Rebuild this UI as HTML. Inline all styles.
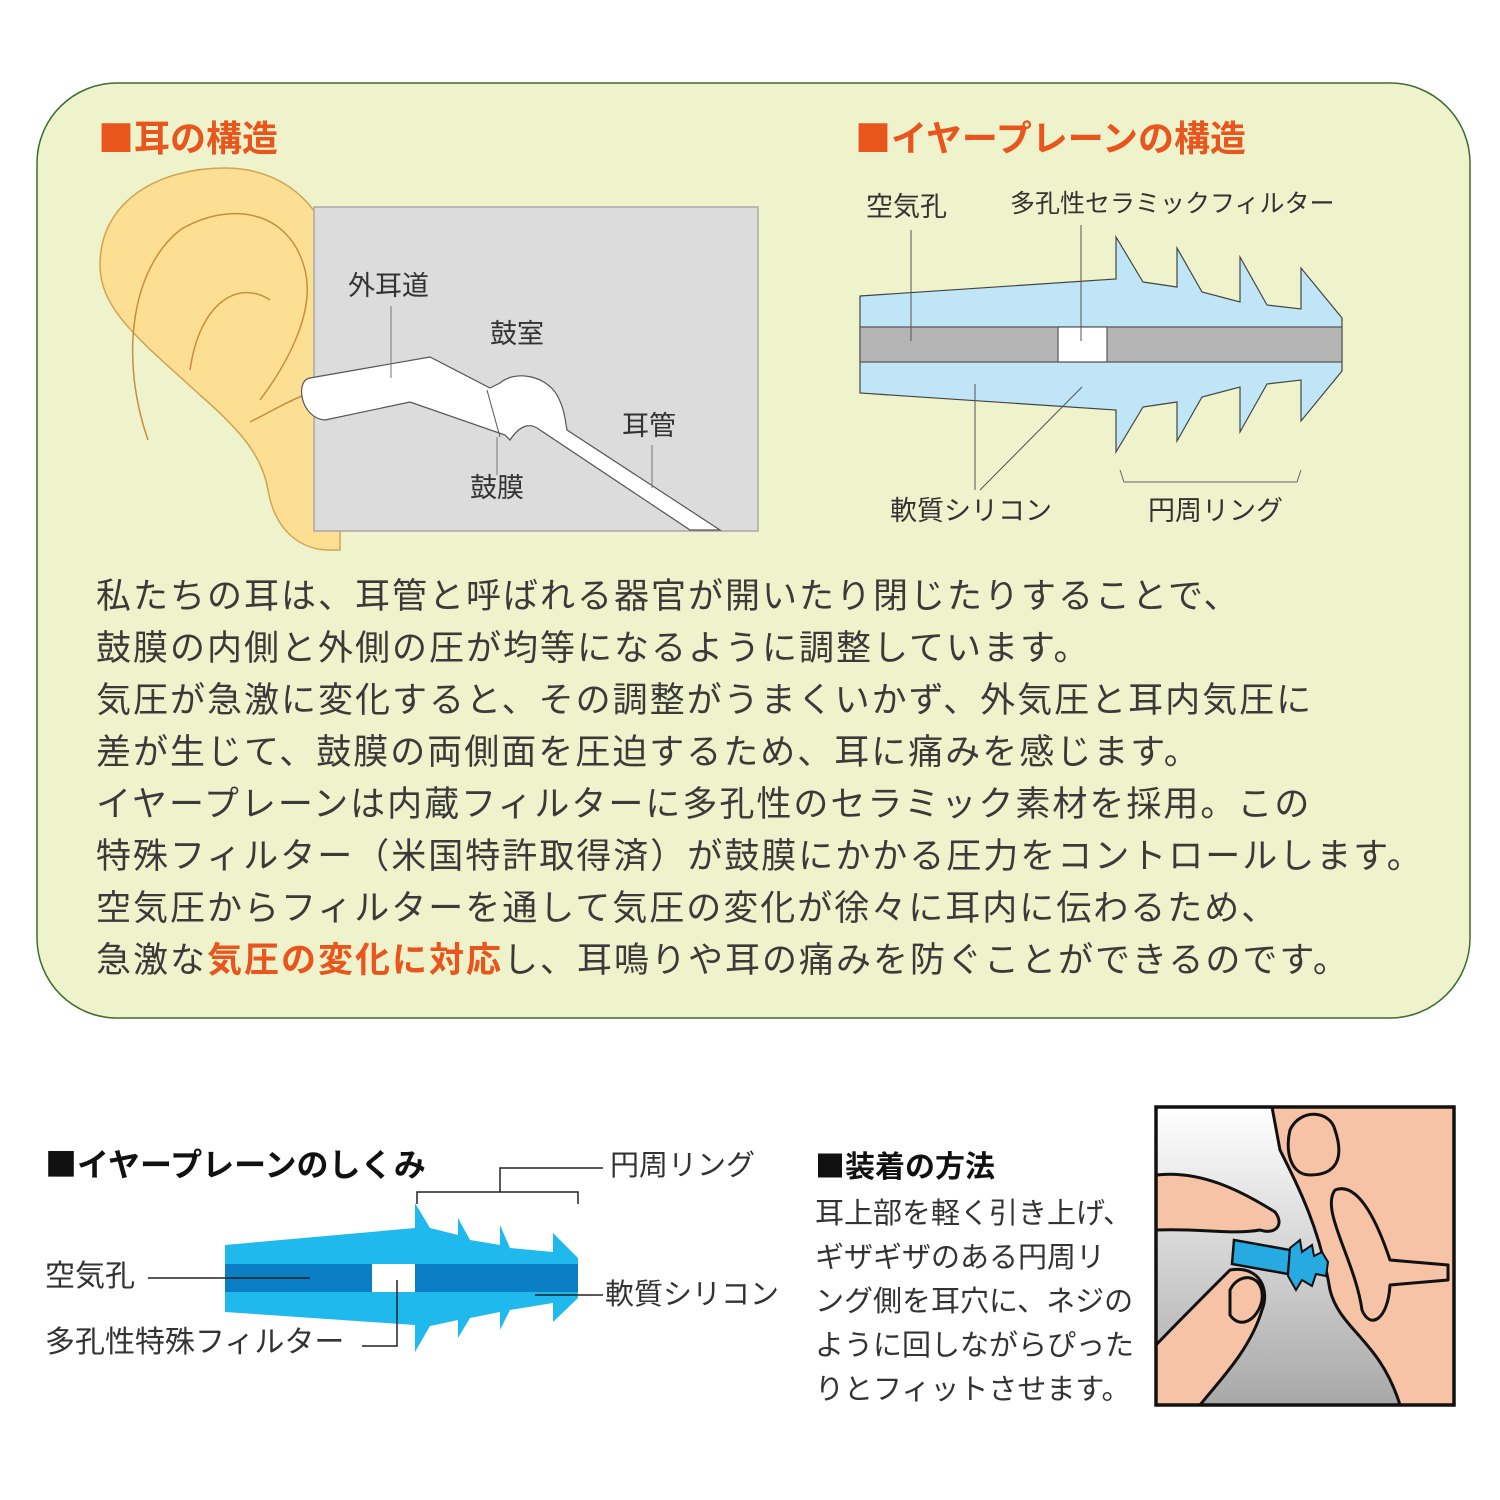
<!DOCTYPE html>
<html><head><meta charset="utf-8"><style>
body{margin:0;width:1500px;height:1500px;background:#fff;overflow:hidden;font-family:"Liberation Sans","Noto Sans CJK JP",sans-serif;}
svg{position:absolute;left:0;top:0}
.t{position:absolute;white-space:nowrap;color:#333;line-height:1}
.sq{font-family:"Noto Sans CJK JP",sans-serif;}
</style></head><body>
<svg width="1500" height="1500" viewBox="0 0 1500 1500">
<rect x="37" y="83" width="1433" height="935" rx="80" fill="#eef3cb" stroke="#3f6b2e" stroke-width="1.5"/>
<!-- ear -->
<path d="M335,550 C300,552 275,530 268,490 C262,455 240,430 200,395 C140,340 100,310 100,265 C100,200 160,168 225,168 C290,168 340,215 340,300 L340,550 Z" fill="#fddf94" stroke="#d2a452" stroke-width="1.5"/>
<path d="M148,440 C120,360 130,270 180,230 C230,200 290,210 305,270 C315,310 290,360 260,400" fill="none" stroke="#c48f3c" stroke-width="1.5"/>
<path d="M190,370 C200,300 240,280 270,300" fill="none" stroke="#c48f3c" stroke-width="1.5"/>
<path d="M250,422 C270,412 290,400 305,395" fill="none" stroke="#c48f3c" stroke-width="1.5"/>
<rect x="314" y="207" width="444" height="324" fill="#dcdcdc" stroke="#a8a8a8" stroke-width="1.5"/>
<path d="M310,378 L430,357 L490,388 L500,383 C515,370 545,375 557,395 C565,410 565,420 567,430 L720,530 L690,530 L540,430 C530,422 520,425 510,440 L505,435 L410,402 L325,420 C300,418 295,380 310,378 Z" fill="#fff" stroke="#555" stroke-width="1.2"/>
<line x1="487" y1="390" x2="500" y2="437" stroke="#555" stroke-width="1"/>
<line x1="391" y1="306" x2="391" y2="378" stroke="#777" stroke-width="1"/>
<line x1="497" y1="437" x2="497" y2="475" stroke="#777" stroke-width="1"/>
<line x1="652" y1="445" x2="652" y2="488" stroke="#777" stroke-width="1"/>
<!-- right earplug -->
<path d="M860,296 L1116,279 L1116,237 L1143,282 L1177,287 L1177,248 L1202,292 L1240,302 L1240,257 L1267,305 L1301,309 L1301,268 L1342,318 L1342,371 L1301,421 L1301,380 L1267,384 L1240,432 L1240,387 L1202,397 L1177,441 L1177,402 L1143,407 L1116,452 L1116,410 L860,393 Z" fill="#bfe5f7" stroke="#444" stroke-width="1.2"/>
<rect x="860" y="327" width="482" height="35" fill="#b5b5b5" stroke="#555" stroke-width="1.2"/>
<rect x="1058" y="327" width="49" height="35" fill="#fff" stroke="#555" stroke-width="1.2"/>
<line x1="911" y1="230" x2="911" y2="341" stroke="#555" stroke-width="1"/>
<line x1="1081" y1="225" x2="1081" y2="341" stroke="#555" stroke-width="1"/>
<line x1="975" y1="384" x2="975" y2="490" stroke="#555" stroke-width="1"/>
<line x1="1082" y1="387" x2="980" y2="490" stroke="#555" stroke-width="1"/>
<path d="M1120,470 L1124,482 L1297,482 L1301,470" fill="none" stroke="#666" stroke-width="1"/>
<!-- bottom earplug -->
<path d="M225,1245 L415,1228 L415,1203 L430,1228 L458,1235 L458,1218 L470,1240 L500,1245 L500,1225 L510,1248 L553,1252 L553,1233 L578,1258 L578,1298 L553,1322 L553,1303 L510,1310 L500,1330 L500,1312 L470,1318 L458,1338 L458,1320 L430,1326 L415,1352 L415,1325 L225,1312 Z" fill="#1fb9ee"/>
<rect x="225" y="1264" width="353" height="28" fill="#0a7fc6"/>
<rect x="372" y="1264" width="43" height="28" fill="#fff"/>
<g stroke="#222" stroke-width="1.5" fill="none">
<line x1="148" y1="1278" x2="310" y2="1278"/>
<path d="M362,1346 L397,1346 L397,1280"/>
<line x1="535" y1="1295" x2="603" y2="1295"/>
<path d="M417,1204 L417,1192 L578,1192 L578,1204 M500,1192 L500,1168 L603,1168"/>
</g>
<!-- instruction image -->
<defs><linearGradient id="g" x1="0" y1="0" x2="0" y2="1"><stop offset="0" stop-color="#fff"/><stop offset="1" stop-color="#a8a8a8"/></linearGradient></defs>
<rect x="1156" y="1107" width="298" height="298" fill="url(#g)"/>
<g stroke="#111" stroke-width="3" fill="#f6c3a6" stroke-linejoin="round">
<path d="M1272,1107 L1454,1107 L1454,1405 L1400,1405 C1380,1340 1340,1330 1330,1290 C1320,1230 1300,1190 1280,1150 Z"/>
<path d="M1335,1190 C1360,1180 1380,1230 1390,1260 L1448,1265 L1448,1280 L1390,1285 C1388,1320 1370,1330 1362,1310 C1355,1260 1320,1210 1335,1190 Z"/>
<path d="M1290,1130 C1300,1108 1330,1110 1335,1130 C1345,1160 1335,1175 1310,1175 C1290,1175 1285,1150 1290,1130 Z"/>
<path d="M1156,1175 C1200,1170 1240,1190 1275,1212 C1285,1225 1275,1235 1260,1230 C1230,1235 1200,1228 1156,1230 Z"/>
<path d="M1156,1345 C1180,1320 1210,1290 1230,1270 C1260,1265 1270,1290 1262,1310 C1250,1350 1220,1380 1200,1405 L1156,1405 Z"/>
<path d="M1230,1290 C1240,1270 1265,1275 1262,1300 C1258,1320 1240,1330 1230,1315 Z"/>
</g>
<path d="M1234,1240 L1290,1250 L1288,1274 L1232,1264 Z" fill="#27a9e1" stroke="#111" stroke-width="2.5"/>
<path d="M1290,1248 L1300,1240 L1302,1252 L1312,1245 L1314,1256 L1322,1252 L1328,1262 L1326,1276 L1316,1274 L1312,1286 L1302,1280 L1296,1290 L1288,1276 Z" fill="#27a9e1" stroke="#111" stroke-width="2"/>
<rect x="1156" y="1107" width="298" height="298" fill="none" stroke="#111" stroke-width="3.5"/>
</svg>

<div class="t" style="left:98px;top:118px;font-size:36px;font-weight:bold;color:#e8561e"><span class="sq">■</span>耳の構造</div>
<div class="t" style="left:855px;top:118px;font-size:36px;font-weight:bold;color:#e8561e"><span class="sq">■</span>イヤープレーンの構造</div>
<div class="t" style="left:348px;top:273px;font-size:27px">外耳道</div>
<div class="t" style="left:490px;top:321px;font-size:27px">鼓室</div>
<div class="t" style="left:622px;top:413px;font-size:27px">耳管</div>
<div class="t" style="left:470px;top:475px;font-size:27px">鼓膜</div>
<div class="t" style="left:866px;top:194px;font-size:27px">空気孔</div>
<div class="t" style="left:1010px;top:192px;font-size:25px">多孔性セラミックフィルター</div>
<div class="t" style="left:890px;top:498px;font-size:27px">軟質シリコン</div>
<div class="t" style="left:1148px;top:498px;font-size:27px">円周リング</div>

<div class="t" style="left:96px;top:571px;font-size:35px;letter-spacing:2px;line-height:52px;color:#3a3a3a">私たちの耳は、耳管と呼ばれる器官が開いたり閉じたりすることで、<br>鼓膜の内側と外側の圧が均等になるように調整しています。<br>気圧が急激に変化すると、その調整がうまくいかず、外気圧と耳内気圧に<br>差が生じて、鼓膜の両側面を圧迫するため、耳に痛みを感じます。<br>イヤープレーンは内蔵フィルターに多孔性のセラミック素材を採用。この<br>特殊フィルター（米国特許取得済）が鼓膜にかかる圧力をコントロールします。<br>空気圧からフィルターを通して気圧の変化が徐々に耳内に伝わるため、<br>急激な<b style="color:#e8561e">気圧の変化に対応</b>し、耳鳴りや耳の痛みを防ぐことができるのです。</div>

<div class="t" style="left:45px;top:1147px;font-size:32px;font-weight:bold;color:#111"><span class="sq">■</span>イヤープレーンのしくみ</div>
<div class="t" style="left:610px;top:1152px;font-size:29px">円周リング</div>
<div class="t" style="left:45px;top:1262px;font-size:30px">空気孔</div>
<div class="t" style="left:605px;top:1281px;font-size:29px">軟質シリコン</div>
<div class="t" style="left:45px;top:1328px;font-size:30px">多孔性特殊フィルター</div>
<div class="t" style="left:815px;top:1149px;font-size:30px;font-weight:bold;color:#111"><span class="sq">■</span>装着の方法</div>
<div class="t" style="left:815px;top:1192px;font-size:29px;line-height:44px">耳上部を軽く引き上げ、<br>ギザギザのある円周リ<br>ング側を耳穴に、ネジの<br>ように回しながらぴった<br>りとフィットさせます。</div>
</body></html>
